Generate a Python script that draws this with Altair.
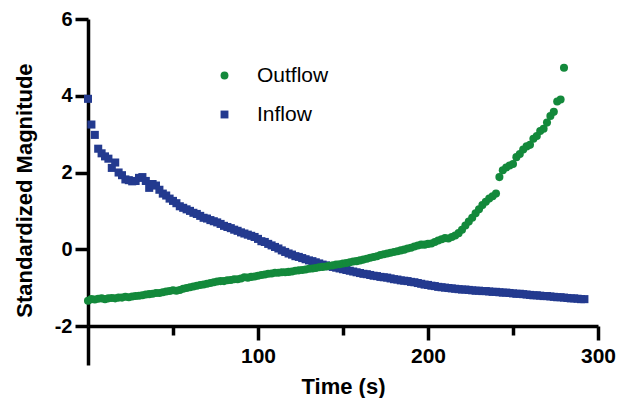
import altair as alt
import pandas as pd

# ---- data ----
series_names = ["Outflow", "Inflow"]
series_colors = ["#13893b", "#233a8f"]
series_shapes = ["circle", "square"]

time_outflow = list(range(0, 282, 2))
outflow = [
    -1.34, -1.30, -1.31, -1.29, -1.28, -1.30, -1.28, -1.27, -1.28, -1.26,
    -1.26, -1.24, -1.25, -1.23, -1.22, -1.21, -1.20, -1.18, -1.17, -1.16,
    -1.14, -1.14, -1.12, -1.10, -1.09, -1.07, -1.08, -1.06, -1.03, -1.01,
    -0.99, -0.97, -0.95, -0.93, -0.92, -0.90, -0.88, -0.86, -0.84, -0.83,
    -0.83, -0.81, -0.80, -0.78, -0.78, -0.76, -0.73, -0.74, -0.72, -0.71,
    -0.69, -0.67, -0.66, -0.64, -0.63, -0.61, -0.61, -0.60, -0.60, -0.59,
    -0.58, -0.56, -0.55, -0.54, -0.53, -0.51, -0.50, -0.49, -0.47, -0.46,
    -0.45, -0.43, -0.42, -0.40, -0.39, -0.37, -0.36, -0.34, -0.32, -0.31,
    -0.29, -0.27, -0.25, -0.22, -0.20, -0.18, -0.15, -0.13, -0.11, -0.09,
    -0.07, -0.05, -0.03, -0.01, 0.02, 0.04, 0.07, 0.10, 0.12, 0.12,
    0.14, 0.15, 0.19, 0.23, 0.26, 0.29, 0.28, 0.32, 0.36, 0.42,
    0.51, 0.62, 0.72, 0.82, 0.94, 1.04, 1.15, 1.24, 1.32, 1.38,
    1.45, 1.88, 2.06, 2.13, 2.18, 2.22, 2.40, 2.48, 2.60, 2.68,
    2.72, 2.88, 2.95, 3.08, 3.14, 3.30, 3.47, 3.58, 3.85, 3.90,
    4.73,
]

time_inflow = list(range(0, 294, 2))
inflow = [
    3.92, 3.25, 2.98, 2.62, 2.50, 2.42, 2.36, 2.12, 2.26, 2.00,
    1.93, 1.82, 1.80, 1.77, 1.78, 1.86, 1.88, 1.78, 1.60, 1.70,
    1.66, 1.55, 1.45, 1.40, 1.32, 1.26, 1.20, 1.12, 1.08, 1.04,
    1.00, 0.95, 0.92, 0.87, 0.82, 0.80, 0.76, 0.73, 0.70, 0.66,
    0.61, 0.58, 0.55, 0.51, 0.48, 0.44, 0.41, 0.38, 0.35, 0.32,
    0.27, 0.21, 0.19, 0.14, 0.10, 0.06, 0.02, -0.03, -0.07, -0.11,
    -0.14, -0.18, -0.20, -0.23, -0.26, -0.29, -0.31, -0.34, -0.37, -0.40,
    -0.42, -0.44, -0.46, -0.48, -0.50, -0.52, -0.54, -0.56, -0.58, -0.60,
    -0.62, -0.64, -0.65, -0.67, -0.69, -0.70, -0.72, -0.73, -0.74, -0.76,
    -0.78, -0.79, -0.81, -0.82, -0.83, -0.85, -0.86, -0.88, -0.90, -0.92,
    -0.93, -0.95, -0.96, -0.98, -0.99, -1.00, -1.01, -1.02, -1.03, -1.04,
    -1.05, -1.05, -1.06, -1.07, -1.08, -1.08, -1.09, -1.09, -1.10, -1.11,
    -1.11, -1.12, -1.13, -1.13, -1.14, -1.15, -1.16, -1.16, -1.17, -1.18,
    -1.19, -1.20, -1.20, -1.21, -1.22, -1.22, -1.23, -1.24, -1.25, -1.25,
    -1.26, -1.27, -1.28, -1.28, -1.29, -1.30, -1.30,
]

x_ticks = [0, 50, 100, 150, 200, 250, 300]
y_ticks = [-2, 0, 2, 4, 6]

df = pd.concat([
    pd.DataFrame({"t": time_inflow, "v": inflow, "series": "Inflow"}),
    pd.DataFrame({"t": time_outflow, "v": outflow, "series": "Outflow"}),
], ignore_index=True)

FONT = "Liberation Sans"

x_axis = alt.Axis(
    values=x_ticks, title="Time (s)", grid=False,
    domainColor="black", domainWidth=3.5, tickColor="black", tickWidth=3.5,
    tickSize={"condition": [{"test": "datum.value == 0", "value": 39},
                            {"test": "datum.value % 100 != 0", "value": 9}],
              "value": 14},
    labelExpr="datum.value > 0 && datum.value % 100 == 0 ? datum.label : ''",
    labelFont=FONT, labelFontSize=21, labelFontWeight="bold", labelColor="black",
    labelPadding=5, labelFlush=False, labelOverlap=False,
    titleFont=FONT, titleFontSize=22, titleFontWeight="bold", titleColor="black",
    titleY=67, titleBaseline="alphabetic",
)

y_axis = alt.Axis(
    values=y_ticks, title="Standardized Magnitude", grid=False,
    domainColor="black", domainWidth=3.5, tickColor="black", tickWidth=3.5, tickSize=13,
    labelExpr="'' + datum.value",
    labelFont=FONT, labelFontSize=20, labelFontWeight="bold", labelColor="black",
    labelPadding=3, labelFlush=False,
    titleFont=FONT, titleFontSize=22, titleFontWeight="bold", titleColor="black",
    titleX=-57, titleY=171, titleAngle=270, titleAlign="center", titleBaseline="alphabetic",
)

legend = alt.Legend(
    title=None, orient="none", legendX=126, legendY=46, padding=0,
    symbolSize=62, symbolStrokeWidth=0, symbolOpacity=1,
    labelFont=FONT, labelFontSize=21, labelColor="black", labelOffset=22,
    rowPadding=17,
)

chart = alt.Chart(df).mark_point(filled=True, opacity=1, size=65, strokeWidth=0).encode(
    x=alt.X("t:Q", scale=alt.Scale(domain=[0, 300], nice=False, zero=False), axis=x_axis),
    y=alt.Y("v:Q", scale=alt.Scale(domain=[-2, 6], nice=False, zero=False), axis=y_axis),
    color=alt.Color("series:N", scale=alt.Scale(domain=series_names, range=series_colors), legend=legend),
    shape=alt.Shape("series:N", scale=alt.Scale(domain=series_names, range=series_shapes), legend=legend),
).properties(
    width=510, height=307,
    autosize=alt.AutoSizeParams(type="none"),
    padding={"left": 80, "top": 11, "right": 23, "bottom": 72},
    background="white",
).configure_view(stroke=None)

chart.save("out.html", embed_options={"renderer": "svg", "actions": False})
